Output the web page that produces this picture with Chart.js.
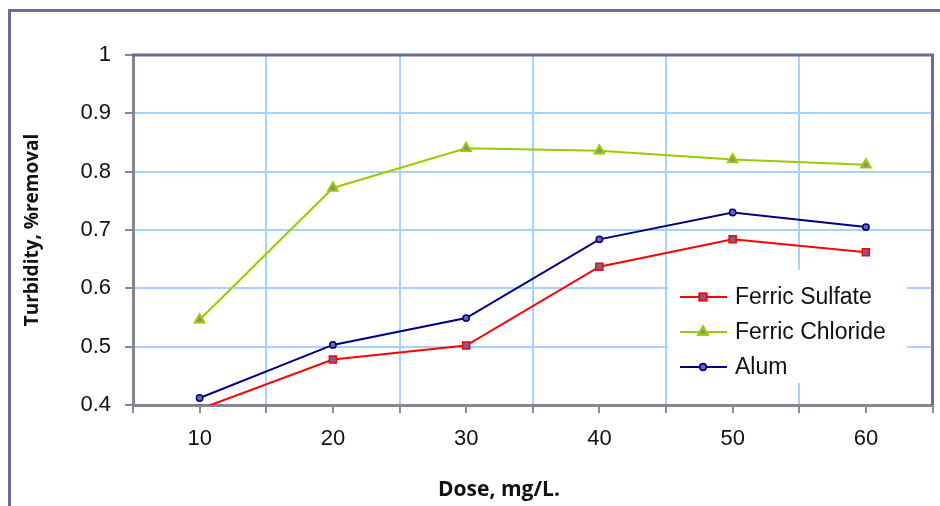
<!DOCTYPE html>
<html>
<head>
<meta charset="utf-8">
<script src="https://cdn.jsdelivr.net/npm/chart.js@4.4.0/dist/chart.umd.min.js"></script>
<style>
  html, body { margin: 0; padding: 0; background: #fff; overflow: hidden; }
  #frame { position: absolute; left: 8px; top: 9px; width: 940px; height: 506px;
           border-left: 3px solid #6b6b9b; border-top: 3px solid #6b6b9b; }
  #c { position: absolute; left: 0; top: 0; }
</style>
</head>
<body>
<div id="frame"></div>
<canvas id="c" width="940" height="506"></canvas>
<script>
// doses along the x axis
const doses = [10, 20, 30, 40, 50, 60];
// removal fractions
const ferricSulfate = [0.393, 0.478, 0.502, 0.637, 0.684, 0.662];
const ferricChloride = [0.546, 0.772, 0.840, 0.836, 0.821, 0.812];
const alum = [0.412, 0.503, 0.549, 0.684, 0.730, 0.705];
const seriesNames = ['Ferric Sulfate', 'Ferric Chloride', 'Alum'];
const yTicks = [0.4, 0.5, 0.6, 0.7, 0.8, 0.9, 1];
const xTitle = 'Dose, mg/L.';
const yTitle = 'Turbidity, %removal';

const GRID = '#a6d2ff';
const AXIS = '#858595';
const FRAME = '#6b6b9b';
const SANS = '"Liberation Sans", Arial, sans-serif';

function pts(vals) {
  return doses.map((d, i) => ({ x: d, y: vals[i] }));
}

// top + right frame of the plot, x title and the boxed legend
const extras = {
  id: 'extras',
  afterDatasetsDraw(chart) {
    const { ctx, chartArea: a } = chart;
    ctx.save();
    ctx.strokeStyle = FRAME;
    ctx.lineWidth = 3;
    ctx.beginPath();
    ctx.moveTo(a.left - 1, a.top);
    ctx.lineTo(a.right, a.top);
    ctx.lineTo(a.right, a.bottom);
    ctx.stroke();

    // legend
    const bx = 668, by = 270, bw = 239, bh = 113;
    ctx.fillStyle = '#fff';
    ctx.fillRect(bx, by, bw, bh);
    ctx.font = '23px ' + SANS;
    ctx.textBaseline = 'middle';
    chart.data.datasets.forEach((ds, i) => {
      const y = by + 27 + i * 35;
      ctx.strokeStyle = ds.borderColor;
      ctx.lineWidth = ds.borderWidth;
      ctx.beginPath();
      ctx.moveTo(680, y);
      ctx.lineTo(727, y);
      ctx.stroke();
      Chart.helpers.drawPoint(ctx, {
        pointStyle: ds.pointStyle, radius: ds.pointRadius, rotation: 0,
        borderWidth: ds.pointBorderWidth
      }, 703, y);
      ctx.fillStyle = ds.pointBackgroundColor;
      ctx.strokeStyle = ds.pointBorderColor;
      ctx.lineWidth = ds.pointBorderWidth;
      ctx.fill();
      ctx.stroke();
      ctx.fillStyle = '#111';
      ctx.fillText(ds.label, 735, y + 1);
    });

    // x axis title
    ctx.fillStyle = '#111';
    ctx.font = 'bold 21px "Open Sans", sans-serif';
    ctx.textAlign = 'center';
    ctx.textBaseline = 'middle';
    ctx.fillText(xTitle, 499, 490);
    ctx.restore();
  }
};

new Chart(document.getElementById('c'), {
  type: 'line',
  data: {
    datasets: [
      {
        label: seriesNames[0], data: pts(ferricSulfate),
        borderColor: '#ff0000', borderWidth: 2,
        pointStyle: 'rect', pointRadius: 5, pointBorderWidth: 1.5,
        pointBackgroundColor: '#7a5f93', pointBorderColor: '#ff0000', clip: 0
      },
      {
        label: seriesNames[1], data: pts(ferricChloride),
        borderColor: '#99cc00', borderWidth: 2,
        pointStyle: 'triangle', pointRadius: 5.5, pointBorderWidth: 2,
        pointBackgroundColor: '#8c8c8c', pointBorderColor: '#99cc00', clip: 0
      },
      {
        label: seriesNames[2], data: pts(alum),
        borderColor: '#000080', borderWidth: 2,
        pointStyle: 'circle', pointRadius: 3.2, pointBorderWidth: 1.5,
        pointBackgroundColor: '#6a6aa8', pointBorderColor: '#000080', clip: 0
      }
    ]
  },
  options: {
    responsive: false,
    animation: false,
    layout: { padding: { left: 0, top: 55, right: 4, bottom: 0 } },
    plugins: { legend: { display: false }, tooltip: { enabled: false } },
    elements: { line: { tension: 0 } },
    scales: {
      x: {
        type: 'linear', min: 5, max: 65,
        afterFit: s => { s.height = 101; s.paddingRight = 0; },
        afterBuildTicks: s => { s.ticks = []; for (let v = 5; v <= 65; v += 5) s.ticks.push({ value: v }); },
        border: { color: AXIS, width: 3 },
        grid: {
          color: c => (c.tick && c.tick.value % 10 === 5 && c.tick.value > 5 && c.tick.value < 65) ? GRID : 'rgba(0,0,0,0)',
          lineWidth: 2, tickLength: 8, tickColor: '#8a8a8a', tickWidth: 2
        },
        ticks: {
          callback: v => doses.includes(v) ? String(v) : '',
          maxRotation: 0, autoSkip: false, padding: 13,
          color: '#111', font: { family: SANS, size: 22 }
        }
      },
      y: {
        min: 0.4, max: 1,
        afterFit: s => { s.width = 133; },
        afterBuildTicks: s => { s.ticks = yTicks.map(v => ({ value: v })); },
        border: { color: AXIS, width: 3 },
        grid: {
          color: c => (c.tick && c.tick.value > 0.45 && c.tick.value < 0.95) ? GRID : 'rgba(0,0,0,0)',
          lineWidth: 2, tickLength: 8, tickColor: '#8a8a8a', tickWidth: 2
        },
        ticks: {
          callback: v => String(+Number(v).toFixed(1)),
          padding: 14, color: '#111',
          font: { family: SANS, size: 22 }
        },
        title: {
          display: true, text: yTitle, color: '#111',
          padding: { top: 21, bottom: 0 },
          font: { family: '"Open Sans", sans-serif', size: 19, weight: 'bold' }
        }
      }
    }
  },
  plugins: [extras]
});
</script>
</body>
</html>
